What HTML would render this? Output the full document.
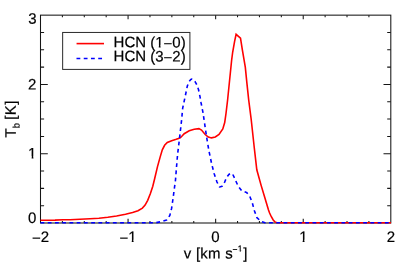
<!DOCTYPE html>
<html><head><meta charset="utf-8"><title>HCN line profiles</title><style>
html,body{margin:0;padding:0;background:#fff;}
svg{display:block;will-change:transform;}
text{font-family:"Liberation Sans",sans-serif;fill:#000;text-rendering:geometricPrecision;}
</style></head><body>
<svg width="399" height="270" viewBox="0 0 399 270">
<rect width="399" height="270" fill="#fff"/>
<rect x="40.5" y="15.15" width="350.3" height="207.85" fill="none" stroke="#151515" stroke-width="1.05"/>
<path d="M62.39 223.0v-2.1M62.39 15.15v2.1M84.29 223.0v-2.1M84.29 15.15v2.1M106.18 223.0v-2.1M106.18 15.15v2.1M128.07 223.0v-4.2M128.07 15.15v4.2M149.97 223.0v-2.1M149.97 15.15v2.1M171.86 223.0v-2.1M171.86 15.15v2.1M193.76 223.0v-2.1M193.76 15.15v2.1M215.65 223.0v-4.2M215.65 15.15v4.2M237.54 223.0v-2.1M237.54 15.15v2.1M259.44 223.0v-2.1M259.44 15.15v2.1M281.33 223.0v-2.1M281.33 15.15v2.1M303.23 223.0v-4.2M303.23 15.15v4.2M325.12 223.0v-2.1M325.12 15.15v2.1M347.01 223.0v-2.1M347.01 15.15v2.1M368.91 223.0v-2.1M368.91 15.15v2.1M40.5 205.68h3.6M390.8 205.68h-3.6M40.5 188.36h3.6M390.8 188.36h-3.6M40.5 171.04h3.6M390.8 171.04h-3.6M40.5 153.72h7.3M390.8 153.72h-7.3M40.5 136.40h3.6M390.8 136.40h-3.6M40.5 119.08h3.6M390.8 119.08h-3.6M40.5 101.75h3.6M390.8 101.75h-3.6M40.5 84.43h7.3M390.8 84.43h-7.3M40.5 67.11h3.6M390.8 67.11h-3.6M40.5 49.79h3.6M390.8 49.79h-3.6M40.5 32.47h3.6M390.8 32.47h-3.6" stroke="#151515" stroke-width="1.05" fill="none"/>
<polyline points="40.5,220.2 48.0,220.2 55.0,220.1 63.0,219.8 70.0,219.7 80.0,219.3 90.0,218.8 98.9,218.3 107.8,217.3 116.6,216.0 125.5,214.3 132.6,212.5 138.0,210.7 142.4,208.1 145.1,205.1 147.7,200.3 150.4,193.6 152.8,186.2 154.7,178.5 157.5,166.6 160.2,156.9 162.3,149.8 164.6,145.3 167.3,142.5 171.7,140.7 176.2,139.3 178.5,138.5 180.5,137.5 182.3,135.8 184.2,133.7 189.2,130.8 194.2,129.3 198.9,128.6 201.5,130.1 205.2,134.5 208.3,137.0 211.5,137.9 215.3,137.0 219.0,134.5 222.8,128.9 224.7,122.6 226.0,113.5 227.6,100.0 231.6,60.5 232.7,52.0 234.6,41.3 236.1,34.3 240.5,38.2 242.4,50.2 245.3,67.1 246.9,83.1 248.7,100.0 251.2,119.5 254.3,148.0 256.8,169.8 261.2,185.6 265.0,198.2 268.5,209.9 269.6,213.0 271.2,216.5 273.2,220.0 274.9,221.9 277.0,222.7 391.0,222.7" fill="none" stroke="#ff0000" stroke-width="1.6" stroke-linejoin="miter" stroke-miterlimit="10"/>
<polyline points="40.5,222.7 140.0,222.7 156.0,222.7 162.2,221.4 166.6,220.0 169.8,215.5 171.6,208.4 172.9,199.5 174.3,188.9 175.5,180.0 176.4,168.4 177.6,154.2 179.4,139.5 181.6,120.0 182.7,108.0 184.4,100.2 185.9,93.0 187.3,86.1 189.1,81.6 190.8,79.6 192.0,79.1 193.4,79.8 194.9,81.3 196.5,84.2 198.5,89.5 200.0,96.7 201.1,103.0 203.0,112.6 205.6,130.2 207.1,140.0 208.9,150.7 211.5,163.1 214.2,173.8 216.9,181.8 219.5,187.0 222.2,186.2 224.5,182.5 226.6,177.3 229.3,174.1 232.3,173.4 234.6,178.2 236.5,182.5 238.2,186.2 241.7,190.7 246.5,192.4 249.7,196.0 252.4,203.1 254.3,210.5 256.9,217.6 260.7,221.2 265.0,222.7 391.0,222.7" fill="none" stroke="#0000ff" stroke-width="1.6" stroke-dasharray="3.8 3.44" stroke-linejoin="round"/>
<!-- legend -->
<rect x="62.65" y="32.45" width="127.25" height="36.95" fill="#fff" stroke="#2a2a2a" stroke-width="1.0"/>
<path d="M76.55 43.6H104" stroke="#ff0000" stroke-width="1.6"/>
<path d="M76.5 58.5H104" stroke="#0000ff" stroke-width="1.6" stroke-dasharray="3.8 3.44"/>
<g id="txt" font-size="15.0" stroke="#000" stroke-width="0.2">
<g transform="translate(113.6 47.35) rotate(0.04) scale(1 1.01)"><text><tspan x="0.00" y="0">H</tspan><tspan x="10.83" y="0">C</tspan><tspan x="21.67" y="0">N</tspan> <tspan x="36.67" y="0">(</tspan><tspan x="41.66" y="0">1</tspan><tspan x="50.00" y="1.40">−</tspan><tspan x="58.76" y="0">0</tspan><tspan x="67.10" y="0">)</tspan></text><rect x="41.36" y="-2.20" width="3.82" height="3.90" fill="#fff" stroke="none"/><rect x="47.01" y="-2.20" width="3.29" height="3.90" fill="#fff" stroke="none"/></g>
<g transform="translate(113.6 61.35) rotate(0.04) scale(1 1.01)"><text><tspan x="0.00" y="0">H</tspan><tspan x="10.83" y="0">C</tspan><tspan x="21.67" y="0">N</tspan> <tspan x="36.67" y="0">(</tspan><tspan x="41.66" y="0">3</tspan><tspan x="50.00" y="1.40">−</tspan><tspan x="58.76" y="0">2</tspan><tspan x="67.10" y="0">)</tspan></text></g>
<g transform="translate(36.5 23.8) rotate(0.04) scale(1 1.01)"><text><tspan x="-8.34" y="0">3</tspan></text></g>
<g transform="translate(36.4 89.4) rotate(0.04) scale(1 1.01)"><text><tspan x="-8.34" y="0">2</tspan></text></g>
<g transform="translate(36.45 158.6) rotate(0.04) scale(1 1.01)"><text><tspan x="-8.34" y="0">1</tspan></text><rect x="-8.64" y="-2.20" width="3.82" height="3.90" fill="#fff" stroke="none"/><rect x="-2.99" y="-2.20" width="3.29" height="3.90" fill="#fff" stroke="none"/></g>
<g transform="translate(36.35 222.9) rotate(0.04) scale(1 1.01)"><text><tspan x="-8.34" y="0">0</tspan></text></g>
<g transform="translate(40.6 241.95) rotate(0.04) scale(1 1.01)"><text><tspan x="-8.55" y="1.40">−</tspan><tspan x="0.21" y="0">2</tspan></text></g>
<g transform="translate(128.0 241.95) rotate(0.04) scale(1 1.01)"><text><tspan x="-8.55" y="1.40">−</tspan><tspan x="0.21" y="0">1</tspan></text><rect x="-0.09" y="-2.20" width="3.82" height="3.90" fill="#fff" stroke="none"/><rect x="5.56" y="-2.20" width="3.29" height="3.90" fill="#fff" stroke="none"/></g>
<g transform="translate(215.5 241.95) rotate(0.04) scale(1 1.01)"><text><tspan x="-4.17" y="0">0</tspan></text></g>
<g transform="translate(303.3 241.95) rotate(0.04) scale(1 1.01)"><text><tspan x="-4.17" y="0">1</tspan></text><rect x="-4.47" y="-2.20" width="3.82" height="3.90" fill="#fff" stroke="none"/><rect x="1.18" y="-2.20" width="3.29" height="3.90" fill="#fff" stroke="none"/></g>
<g transform="translate(391 241.95) rotate(0.04) scale(1 1.01)"><text><tspan x="-4.17" y="0">2</tspan></text></g>
<g transform="translate(183.85 258.5) rotate(0.04) scale(1 1.01)"><text><tspan x="0.00" y="0">v</tspan> <tspan x="12.12" y="0">[</tspan><tspan x="16.48" y="0">k</tspan><tspan x="24.18" y="0">m</tspan> <tspan x="41.30" y="0">s</tspan><tspan x="48.60" y="-6.16" font-size="8.5">−</tspan><tspan x="53.96" y="-6.95" font-size="8.5">1</tspan><tspan x="59.49" y="0">]</tspan></text><rect x="53.66" y="-8.20" width="2.19" height="2.21" fill="#fff" stroke="none"/><rect x="57.10" y="-8.20" width="1.89" height="2.21" fill="#fff" stroke="none"/></g>
<g transform="translate(15.7 137.5) rotate(-89.96) scale(1 1.01)"><text><tspan x="0.00" y="0">T</tspan><tspan x="9.16" y="3.70" font-size="9.4">b</tspan> <tspan x="17.83" y="0">[</tspan><tspan x="22.37" y="0">K</tspan><tspan x="32.74" y="0">]</tspan></text></g>
</g>
</svg>
</body></html>
